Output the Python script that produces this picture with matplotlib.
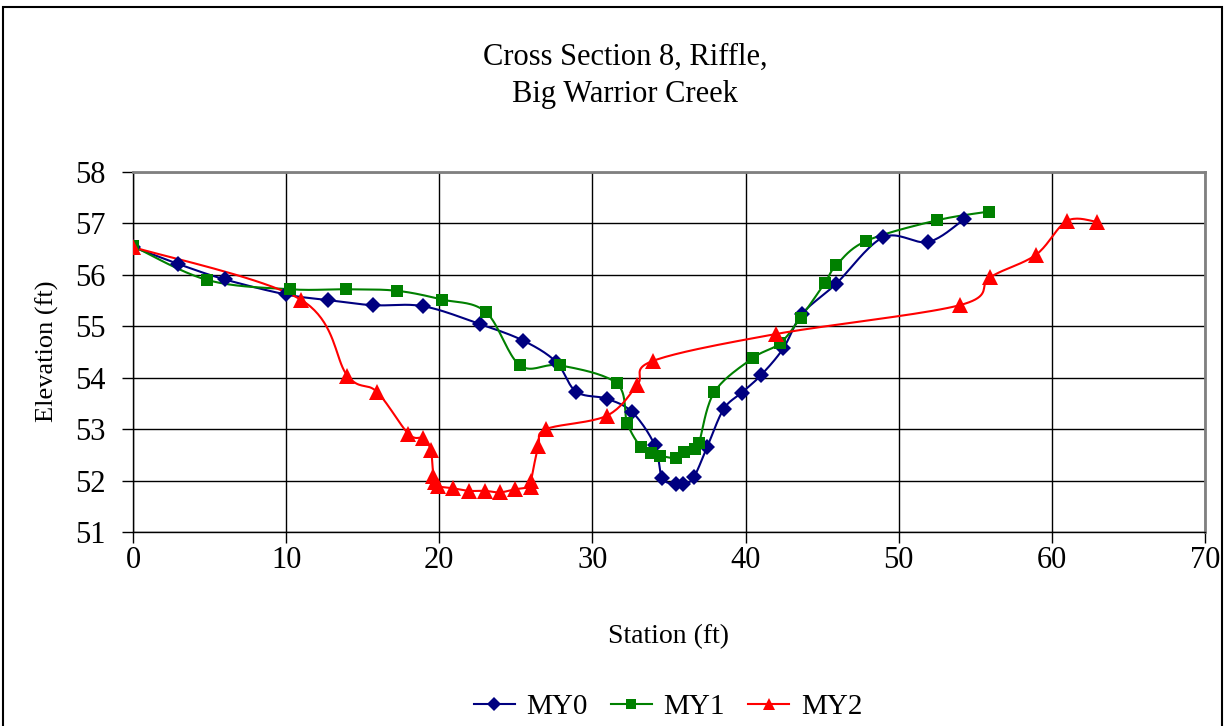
import numpy as np
import matplotlib
matplotlib.use("Agg")
import matplotlib.pyplot as plt
from matplotlib.patches import Rectangle

# ---- data ----
my0_x = [0, 2.96, 6.01, 9.97, 12.71, 15.65, 18.96, 22.68, 25.49, 27.62, 28.93, 30.95,
         32.6, 34.07, 34.56, 35.46, 35.93, 36.61, 37.5, 38.57, 39.75, 41.01, 42.46,
         43.69, 45.89, 48.99, 51.93, 54.26]
my0_y = [56.54, 56.21, 55.91, 55.62, 55.51, 55.41, 55.39, 55.04, 54.72, 54.31, 53.73, 53.59,
         53.33, 52.69, 52.05, 51.93, 51.93, 52.06, 52.66, 53.39, 53.71, 54.05, 54.57,
         55.24, 55.82, 56.73, 56.64, 57.08]

my1_x = [0, 4.85, 10.23, 13.93, 17.24, 20.18, 23.03, 25.27, 27.88, 31.58, 32.28, 33.17,
         33.85, 34.43, 35.44, 36.0, 36.68, 36.96, 37.96, 40.46, 42.25, 43.6, 45.17,
         45.93, 47.88, 52.48, 55.88]
my1_y = [56.56, 55.9, 55.72, 55.72, 55.69, 55.52, 55.28, 54.24, 54.24, 53.89, 53.11, 52.65,
         52.53, 52.48, 52.44, 52.56, 52.61, 52.73, 53.72, 54.38, 54.67, 55.17, 55.84,
         56.19, 56.66, 57.06, 57.23]

my2_x = [0, 10.95, 14.0, 15.91, 17.98, 18.96, 19.44, 19.61, 19.72, 19.94, 20.9, 21.96,
         22.99, 23.96, 24.92, 25.97, 25.99, 26.47, 26.97, 30.93, 32.93, 33.98, 41.99,
         53.98, 55.96, 58.96, 60.99, 62.95]
my2_y = [56.54, 55.52, 54.04, 53.73, 52.91, 52.82, 52.59, 52.09, 51.98, 51.89, 51.85, 51.80,
         51.80, 51.77, 51.83, 51.88, 51.99, 52.67, 53.0, 53.26, 53.86, 54.33, 54.85,
         55.41, 55.95, 56.39, 57.05, 57.03]

series_names = ["MY0", "MY1", "MY2"]
x_ticks = list(range(0, 71, 10))
y_ticks = list(range(51, 59))
title_text = "Cross Section 8, Riffle,\nBig Warrior Creek"


def smooth(xs, ys, n=20):
    """Catmull-Rom (Excel-like) smoothing through given points."""
    x = np.asarray(xs, float)
    y = np.asarray(ys, float)
    px = np.concatenate([[x[0]], x, [x[-1]]])
    py = np.concatenate([[y[0]], y, [y[-1]]])
    ox, oy = [], []
    t = np.linspace(0, 1, n, endpoint=False)
    for i in range(1, len(px) - 2):
        p0, p1, p2, p3 = px[i - 1], px[i], px[i + 1], px[i + 2]
        q0, q1, q2, q3 = py[i - 1], py[i], py[i + 1], py[i + 2]
        c1x = p1 + (p2 - p0) / 6.0
        c2x = p2 - (p3 - p1) / 6.0
        c1y = q1 + (q2 - q0) / 6.0
        c2y = q2 - (q3 - q1) / 6.0
        bx = (1 - t) ** 3 * p1 + 3 * (1 - t) ** 2 * t * c1x + 3 * (1 - t) * t ** 2 * c2x + t ** 3 * p2
        by = (1 - t) ** 3 * q1 + 3 * (1 - t) ** 2 * t * c1y + 3 * (1 - t) * t ** 2 * c2y + t ** 3 * q2
        ox.extend(bx)
        oy.extend(by)
    ox.append(x[-1])
    oy.append(y[-1])
    return np.array(ox), np.array(oy)


plt.rcParams['font.family'] = ['Liberation Serif', 'DejaVu Serif']

fig = plt.figure(figsize=(12.28, 7.26), dpi=100)
W, H = 1228, 726
ax = fig.add_axes([133 / W, 1 - 532 / H, (1205 - 133) / W, (532 - 172) / H])

styles = [
    (my0_x, my0_y, "#000080", "D", 8.5),
    (my1_x, my1_y, "#008000", "s", 8.5),
    (my2_x, my2_y, "#FF0000", "^", 11),
]
for (xs, ys, col, mk, ms), name in zip(styles, series_names):
    sx, sy = smooth(xs, ys)
    ax.plot(sx, sy, color=col, lw=1.5, zorder=3)
    ax.plot(xs, ys, linestyle="none", marker=mk, color=col, markersize=ms,
            markeredgewidth=0, zorder=4)
    ax.plot([], [], color=col, lw=1.5, marker=mk, markersize=ms * 0.8,
            markeredgewidth=0, label=name)

ax.set_xlim(0, 70)
ax.set_ylim(51, 58)
ax.set_xticks(x_ticks)
ax.set_yticks(y_ticks)
ax.grid(True, color="black", lw=1.0, zorder=0)
ax.set_axisbelow(True)
for s in ["top", "right"]:
    ax.spines[s].set_color("#808080")
    ax.spines[s].set_linewidth(2)
for s in ["left", "bottom"]:
    ax.spines[s].set_color("black")
    ax.spines[s].set_linewidth(1.0)
ax.tick_params(axis="both", direction="out", length=8, width=1, labelsize=22,
               colors="black")
ax.tick_params(axis="y", pad=12)
ax.tick_params(axis="x", pad=2)

fig.text(625 / W, 1 - 76 / H, title_text, ha="center", va="center", fontsize=22,
         linespacing=1.4)
fig.text(669 / W, 1 - 637 / H, "Station (ft)", ha="center", va="center", fontsize=20)
fig.text(47 / W, 1 - 351 / H, "Elevation (ft)", ha="center", va="center", fontsize=19,
         rotation=90)

fig.legend(loc="center", bbox_to_anchor=(668 / W, 1 - 707 / H), ncol=3, frameon=False,
           fontsize=21, handlelength=1.4, handletextpad=0.4, columnspacing=0.8)

fig.patches.append(Rectangle((3 / W, -0.1), 1219 / W, 1.1 - 7 / H, transform=fig.transFigure,
                             fill=False, edgecolor="black", lw=1.5))

fig.savefig("out.png", dpi=100)
